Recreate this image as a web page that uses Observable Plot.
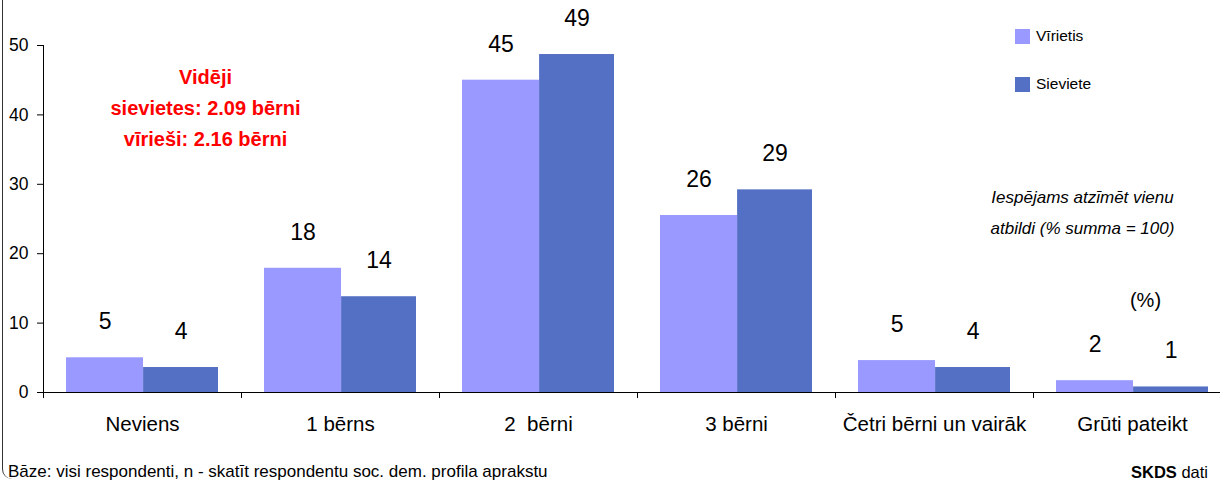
<!DOCTYPE html>
<html>
<head>
<meta charset="utf-8">
<script src="https://cdn.jsdelivr.net/npm/d3@7"></script>
<script src="https://cdn.jsdelivr.net/npm/@observablehq/plot@0.6"></script>
<style>
  body { margin: 0; background: #fff; font-family: "Liberation Sans", Arial, sans-serif; color: #000; }
  #wrap { position: relative; width: 1220px; height: 487px; overflow: hidden; background: #fff; }
  #chart svg text { white-space: pre; }
  #border { position: absolute; left: 2px; top: -20px; width: 30px; height: 499px; border-left: 1px solid #333; border-bottom-left-radius: 10px; pointer-events: none; }
  .leg { position: absolute; left: 1015px; font-size: 15.5px; line-height: 16px; display: flex; align-items: center; }
  .leg i { display: inline-block; width: 15px; height: 15px; margin-right: 6px; }
  #footL { position: absolute; left: 8px; top: 464px; font-size: 17px; line-height: 16px; }
  #footR { position: absolute; right: 12px; top: 464px; font-size: 16.5px; line-height: 16px; }
</style>
</head>
<body>
<div id="wrap">
  <div id="chart"></div>
  <div id="legend"></div>
  <div id="border"></div>
  <div id="footL"></div>
  <div id="footR"></div>
</div>
<script>
// ---- data ----
const categories = ["Neviens", "1 bērns", "2  bērni", "3 bērni", "Četri bērni un vairāk", "Grūti pateikt"];
const seriesNames = ["Vīrietis", "Sieviete"];
const menValues = [5.0, 17.9, 45.0, 25.5, 4.6, 1.7];
const womenValues = [3.6, 13.8, 48.7, 29.2, 3.6, 0.8];
const seriesColors = ["#9999ff", "#5470c4"];
const yTicks = [0, 10, 20, 30, 40, 50];
const averageLines = ["Vidēji", "sievietes: 2.09 bērni", "vīrieši: 2.16 bērni"];
const noteLines = ["Iespējams atzīmēt vienu", "atbildi (% summa = 100)"];
const unitLabel = "(%)";
const footerLeft = "Bāze: visi respondenti, n - skatīt respondentu soc. dem. profila aprakstu";
const footerRightBold = "SKDS";
const footerRight = " dati";

// ---- table ----
const rows = [];
categories.forEach((c, i) => {
  rows.push({category: c, series: seriesNames[0], value: menValues[i]});
  rows.push({category: c, series: seriesNames[1], value: womenValues[i]});
});
const menRows = rows.filter(d => d.series === seriesNames[0]);
const womenRows = rows.filter(d => d.series === seriesNames[1]);

// ---- layout ----
const W = 1220, H = 458;
const mL = 43, mR = -11, mT = 45, mB = 66;
const padInner = 0.232, padOuter = 0.116;
const step = (W - mR - mL) / (categories.length - padInner + 2 * padOuter);
const bw = step * (1 - padInner);
const menInsetRight = bw * 0.493;
const womenInsetLeft = bw * 0.507;
const fontFamily = "'Liberation Sans', Arial, sans-serif";

const chart = Plot.plot({
  width: W,
  height: H,
  marginLeft: mL,
  marginRight: mR,
  marginTop: mT,
  marginBottom: mB,
  style: {fontFamily, fontSize: "17.5px", color: "#000", background: "transparent", overflow: "visible"},
  x: {domain: categories, paddingInner: padInner, paddingOuter: padOuter, axis: null},
  y: {domain: [0, 50], ticks: yTicks, tickSize: 6, tickPadding: 9, label: null},
  marks: [
    Plot.barY(menRows, {x: "category", y: "value", fill: seriesColors[0], insetRight: menInsetRight, insetLeft: 0}),
    Plot.barY(womenRows, {x: "category", y: "value", fill: seriesColors[1], insetLeft: womenInsetLeft, insetRight: 0}),
    Plot.ruleY([0], {stroke: "#000"}),
    Plot.ruleX([categories[0]], {x: d => d, dx: -step / 2, y1: 0, y2: 50, stroke: "#000"}),
    Plot.ruleX(categories, {x: d => d, dx: -step / 2, y1: 0, y2: 0, insetBottom: -6, stroke: "#000"}),
    Plot.text(categories, {x: d => d, frameAnchor: "bottom", dy: 38, fontSize: 20.5, fill: "#000"}),
    Plot.text(menRows, {x: "category", y: "value", text: d => String(Math.round(d.value)), dx: -menInsetRight / 2, dy: -36, fontSize: 23, fill: "#000"}),
    Plot.text(womenRows, {x: "category", y: "value", text: d => String(Math.round(d.value)), dx: womenInsetLeft / 2, dy: -36, fontSize: 23, fill: "#000"}),
    Plot.text([averageLines.join("\n")], {frameAnchor: "top-left", dx: 162, dy: 16.6, text: d => d, fontSize: 20, fontWeight: "bold", fill: "#ff0000", lineHeight: 1.55, textAnchor: "middle"}),
    Plot.text([noteLines.join("\n")], {frameAnchor: "top-right", dx: -149, dy: 136, text: d => d, fontSize: 17, fontStyle: "italic", fill: "#000", lineHeight: 1.82, textAnchor: "middle"}),
    Plot.text([unitLabel], {frameAnchor: "top-right", dx: -86, dy: 247.6, text: d => d, fontSize: 20, fill: "#000", textAnchor: "middle"})
  ]
});
document.getElementById("chart").append(chart);

// legend
const legend = document.getElementById("legend");
seriesNames.forEach((name, i) => {
  const el = document.createElement("div");
  el.className = "leg";
  el.style.top = (28 + i * 48) + "px";
  const sw = document.createElement("i");
  sw.style.background = seriesColors[i];
  el.append(sw, document.createTextNode(name));
  legend.append(el);
});

document.getElementById("footL").textContent = footerLeft;
const fr = document.getElementById("footR");
const b = document.createElement("b");
b.textContent = footerRightBold;
fr.append(b, document.createTextNode(footerRight));
</script>
</body>
</html>
